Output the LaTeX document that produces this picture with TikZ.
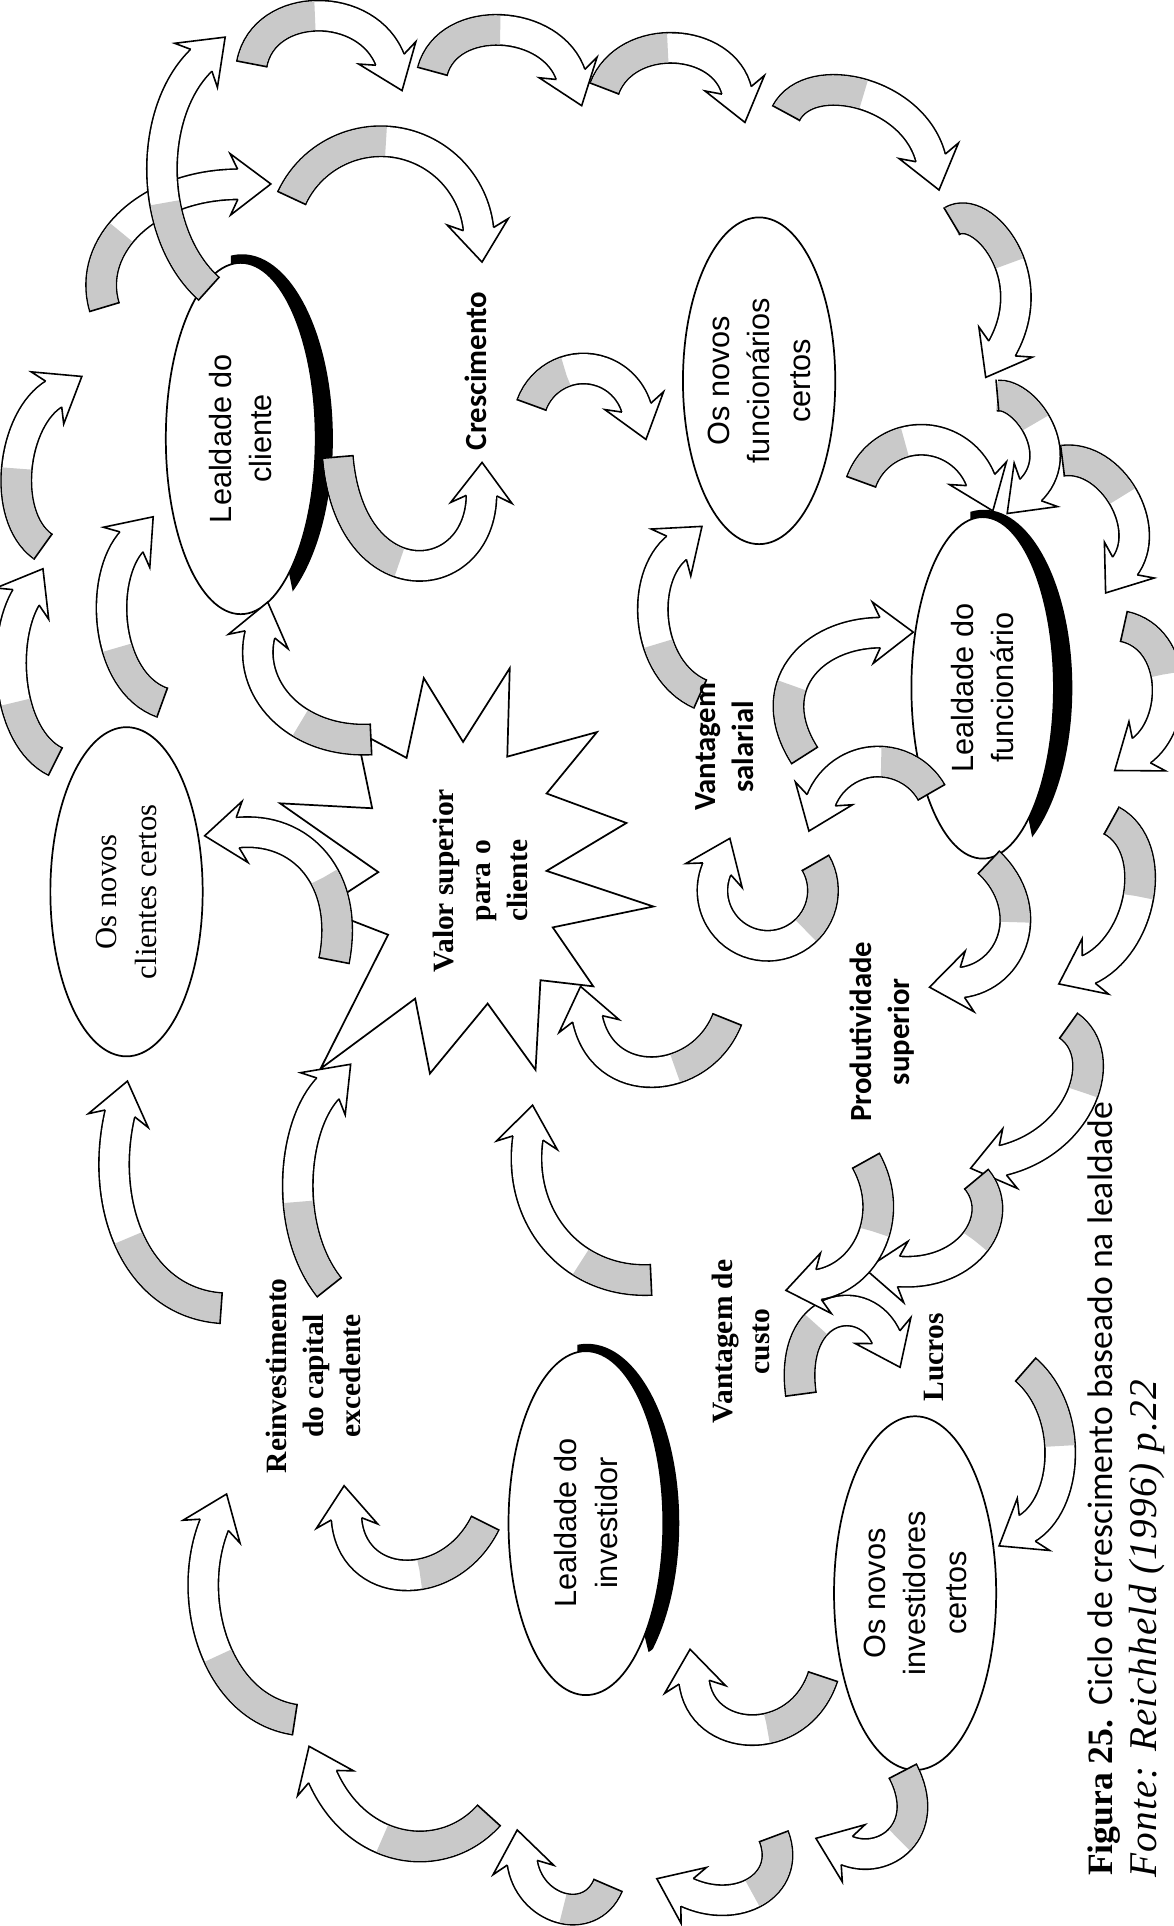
\documentclass[tikz,border=0pt]{standalone}
\usepackage{fontspec}
\setmainfont{Liberation Serif}
\newfontfamily\sansfont{Carlito}
\newfontfamily\ellfont{Liberation Sans}
\usetikzlibrary{shapes.geometric,decorations.markings}

\colorlet{ribbongrey}{gray!42}

% twisted ribbon arrow: #1 = path, #2 = length of the shaded (back) side at the tail
\newcommand\ribbonarrow[2]{%
  \draw[line width=26pt] #1;
  \draw[line width=23.4pt, white] #1;
  \draw[line width=23.4pt, ribbongrey, dash pattern=on #2 off 5000pt] #1;
  \path[decorate, decoration={markings,
      mark=at position 0 with {\draw[line width=1.3pt] (0pt,-13pt) -- (0pt,13pt);},
      mark=at position -1.5pt with {\filldraw[fill=white, line width=1.3pt, line join=miter]
        (0pt,-12.3pt) -- (-6pt,-25pt) -- (27pt,0pt) -- (-6pt,25pt) -- (0pt,12.3pt);}}] #1;
}

\tikzset{
  ell/.style={draw, line width=1.4pt, ellipse, inner sep=0pt, rotate=90, align=center,
              font=\ellfont\fontsize{25}{33}\selectfont},
  serifell/.style={draw, line width=1.4pt, ellipse, inner sep=0pt, rotate=90, align=center,
              font=\rmfamily\fontsize{25}{33}\selectfont},
  boldlbl/.style={rotate=90, align=center, inner sep=0pt, font=\rmfamily\bfseries\fontsize{24}{30}\selectfont},
  sanslbl/.style={rotate=90, align=center, inner sep=0pt, font=\sansfont\bfseries\fontsize{25}{31}\selectfont},
  star/.style={draw, line width=1.4pt, fill=white, line join=miter},
}

\begin{document}
\begin{tikzpicture}[x=1pt, y=-1pt]
\useasboundingbox (0,0) rectangle (955,1568);

% ---- central star ----
\draw[star] (331,617) -- (345,552) -- (377,604) -- (415,544) -- (413,616) -- (486,596)
  -- (445,646) -- (510,670) -- (445,709) -- (532,738) -- (450,755) -- (483,803)
  -- (440,798) -- (436,871) -- (397,817) -- (350,874) -- (338,813) -- (261,870)
  -- (316,761) -- (262,740) -- (308,710) -- (228,654) -- (303,658) -- (290,595) -- cycle;

% ---- loyalty crescents ----
\begin{scope}
  \clip (188,195) -- (300,195) -- (300,455) -- (240,490) -- (188,230) -- cycle;
  \fill[even odd rule] (196,357) ellipse[x radius=61, y radius=143]
                       (197,357) ellipse[x radius=74, y radius=150];
\end{scope}
\begin{scope}
  \clip (790,400) -- (900,400) -- (900,670) -- (845,705) -- (790,430) -- cycle;
  \fill[even odd rule] (800,560) ellipse[x radius=58, y radius=139]
                       (801,560) ellipse[x radius=72, y radius=145];
\end{scope}
\begin{scope}
  \clip (470,1080) -- (580,1080) -- (580,1310) -- (528,1345) -- (470,1110) -- cycle;
  \fill[even odd rule] (477,1240) ellipse[x radius=63, y radius=140]
                       (478,1240) ellipse[x radius=75, y radius=146];
\end{scope}

% ---- ellipses ----
\node[ell, minimum width=286pt, minimum height=122pt] (lcli) at (196,357) {Lealdade do\\cliente};
\node[ell, minimum width=266pt, minimum height=124pt] (nfun) at (618,310) {Os novos\\funcion\'arios\\certos};
\node[ell, minimum width=278pt, minimum height=116pt] (lfun) at (800,560) {Lealdade do\\funcion\'ario};
\node[serifell, minimum width=268pt, minimum height=124pt] (ncli) at (103,726) {Os novos\\clientes certos};
\node[ell, minimum width=280pt, minimum height=126pt] (linv) at (477,1240) {Lealdade do\\investidor};
\node[ell, minimum width=288pt, minimum height=132pt] (ninv) at (745,1297) {Os novos\\investidores\\certos};

% ---- outer ring of arrows ----
\ribbonarrow{(205,52) .. controls (215,0) and (300,0) .. (318,50)}{70pt}
\ribbonarrow{(352,58) .. controls (365,10) and (450,15) .. (465,62)}{70pt}
\ribbonarrow{(492,72) .. controls (510,25) and (590,30) .. (600,75)}{65pt}
\ribbonarrow{(640,92) .. controls (660,55) and (745,75) .. (758,130)}{70pt}
\ribbonarrow{(775,180) .. controls (800,165) and (850,225) .. (815,285)}{65pt}
\ribbonarrow{(812,322) .. controls (835,320) and (870,370) .. (838,400)}{40pt}
\ribbonarrow{(865,375) .. controls (905,370) and (940,430) .. (915,462)}{60pt}
\ribbonarrow{(915,510) .. controls (960,520) and (960,590) .. (928,612)}{55pt}
\ribbonarrow{(905,668) .. controls (945,690) and (930,770) .. (885,790)}{70pt}
\ribbonarrow{(870,835) .. controls (905,860) and (880,930) .. (815,945)}{60pt}
\ribbonarrow{(795,960) .. controls (820,990) and (790,1040) .. (730,1035)}{55pt}
\ribbonarrow{(835,1115) .. controls (875,1150) and (870,1225) .. (835,1245)}{70pt}
\ribbonarrow{(735,1442) .. controls (760,1490) and (720,1520) .. (688,1506)}{60pt}
\ribbonarrow{(630,1495) .. controls (645,1535) and (600,1560) .. (558,1540)}{55pt}
\ribbonarrow{(495,1535) .. controls (480,1570) and (430,1555) .. (425,1515)}{45pt}
\ribbonarrow{(398,1478) .. controls (360,1520) and (290,1510) .. (262,1445)}{95pt}
\ribbonarrow{(240,1400) .. controls (175,1390) and (150,1300) .. (175,1240)}{85pt}
\ribbonarrow{(180,1065) .. controls (110,1060) and (80,980) .. (98,905)}{100pt}
\ribbonarrow{(45,620) .. controls (5,600) and (0,520) .. (22,485)}{60pt}
\ribbonarrow{(35,445) .. controls (0,420) and (10,340) .. (45,320)}{70pt}
\ribbonarrow{(85,250) .. controls (70,200) and (120,150) .. (195,150)}{65pt}
\ribbonarrow{(170,235) .. controls (120,190) and (120,90) .. (165,48)}{80pt}

% ---- inner arrows ----
\ribbonarrow{([shift={(205:80)}]310,195) arc[start angle=205, end angle=355, radius=80]}{95pt}
\ribbonarrow{(275,372) .. controls (285,490) and (392,480) .. (392,402)}{105pt}
\ribbonarrow{([shift={(200:45)}]475,345) arc[start angle=200, end angle=345, radius=45]}{40pt}
\ribbonarrow{([shift={(200:52)}]750,410) arc[start angle=200, end angle=340, radius=52]}{50pt}
\ribbonarrow{(570,565) .. controls (525,545) and (520,470) .. (552,445)}{55pt}
\ribbonarrow{(655,615) .. controls (620,560) and (660,515) .. (718,515)}{60pt}
\ribbonarrow{(132,572) .. controls (85,555) and (80,470) .. (108,440)}{60pt}
\ribbonarrow{([shift={(330:50)}]715,670) arc[start angle=330, end angle=200, radius=50]}{50pt}
\ribbonarrow{([shift={(-30:45)}]625,725) arc[start angle=-30, end angle=205, radius=45]}{60pt}
\ribbonarrow{(592,830) .. controls (570,885) and (490,890) .. (478,828)}{60pt}
\ribbonarrow{(805,702) .. controls (845,740) and (825,795) .. (782,800)}{55pt}
\ribbonarrow{(302,602) .. controls (240,605) and (200,560) .. (212,515)}{60pt}
\ribbonarrow{(272,782) .. controls (285,715) and (245,672) .. (192,678)}{70pt}
\ribbonarrow{(268,1048) .. controls (230,1000) and (238,915) .. (268,885)}{75pt}
\ribbonarrow{(530,1042) .. controls (465,1045) and (420,990) .. (430,925)}{60pt}
\ribbonarrow{(395,1240) .. controls (365,1300) and (285,1295) .. (282,1235)}{70pt}
\ribbonarrow{(670,1365) .. controls (650,1425) and (570,1420) .. (565,1368)}{65pt}
\ribbonarrow{(652,1135) .. controls (642,1060) and (705,1050) .. (722,1090)}{60pt}
\ribbonarrow{(705,945) .. controls (730,990) and (705,1040) .. (665,1046)}{60pt}

% ---- labels ----
\node[sanslbl] (cresc) at (387,302) {Crescimento};
\node[boldlbl] (valor) at (391,717) {Valor superior\\para o\\cliente};
\node[sanslbl] (vsal) at (590,608) {Vantagem\\salarial};
\node[sanslbl] (prod) at (718,840) {Produtividade\\superior};
\node[boldlbl] (reinv) at (255,1120) {Reinvestimento\\do capital\\excedente};
\node[boldlbl] (vcusto) at (603,1092) {Vantagem de\\custo};
\node[boldlbl] (lucros) at (760,1105) {Lucros};

% ---- caption ----
\node[rotate=90, inner sep=0pt] (cap) at (899,1212)
  {\fontsize{29}{32}\selectfont\textbf{Figura 25.}\hspace{0.4em}{\sansfont Ciclo de crescimento baseado na lealdade}};
\node[rotate=90, inner sep=0pt] (src) at (934,1326)
  {\addfontfeatures{LetterSpace=3}\fontsize{32}{34}\selectfont\itshape Fonte: Reichheld (1996) p.22};
\end{tikzpicture}
\end{document}
